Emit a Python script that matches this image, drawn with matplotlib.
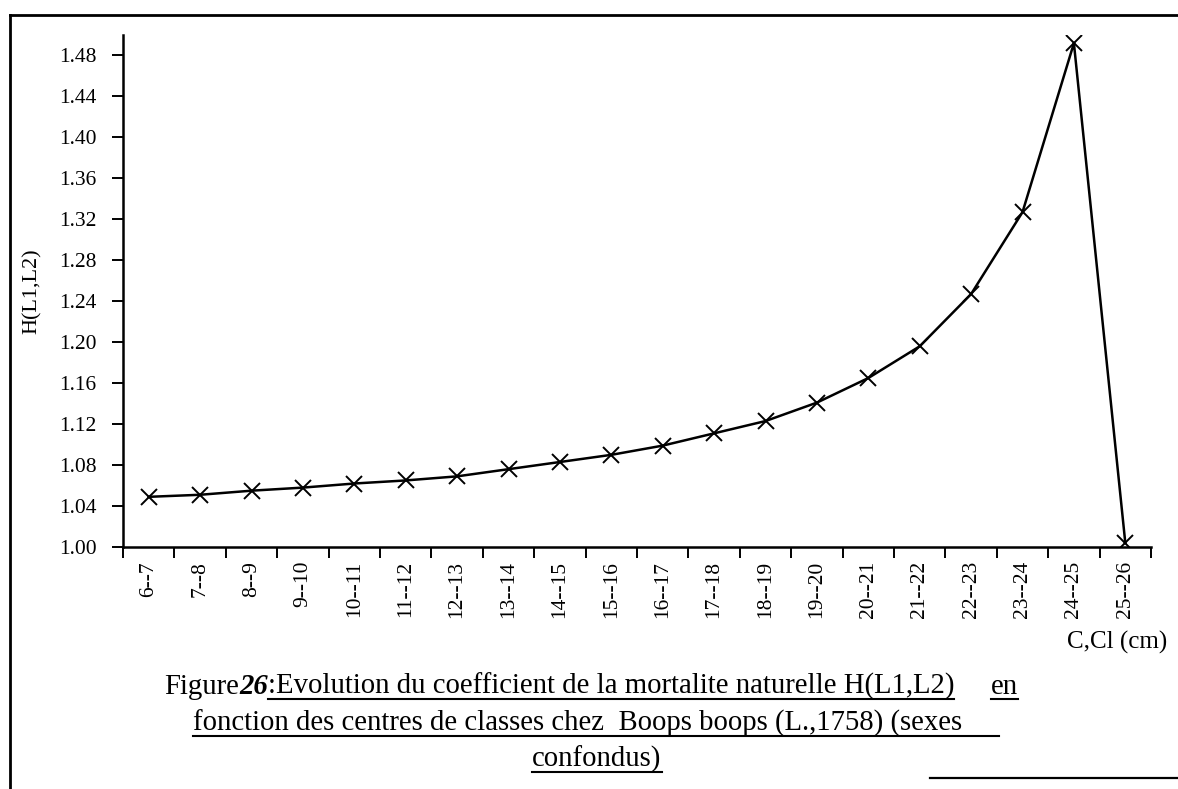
import matplotlib
matplotlib.use("Agg")
import matplotlib.pyplot as plt
from matplotlib.lines import Line2D
import numpy as np

# class intervals (cm) and H(L1,L2)
classes = ["6--7", "7--8", "8--9", "9--10", "10--11", "11--12", "12--13", "13--14",
           "14--15", "15--16", "16--17", "17--18", "18--19", "19--20", "20--21",
           "21--22", "22--23", "23--24", "24--25", "25--26"]
h_values = [1.049, 1.051, 1.055, 1.058, 1.062, 1.065, 1.069, 1.076, 1.083, 1.090,
            1.099, 1.111, 1.123, 1.141, 1.165, 1.196, 1.247, 1.327, 1.492, 1.004]
y_ticks = [1.00, 1.04, 1.08, 1.12, 1.16, 1.20, 1.24, 1.28, 1.32, 1.36, 1.40, 1.44, 1.48]

plt.rcParams['font.family'] = ['Liberation Serif', 'DejaVu Serif']

W, H = 1178, 789
fig = plt.figure(figsize=(W / 100, H / 100), dpi=100)
ax = fig.add_axes([123 / W, 1 - 547 / H, (1151 - 123) / W, (547 - 35) / H])

x = np.arange(len(classes))
ax.plot(x, h_values, color='black', lw=1.8, marker='x', ms=12, mew=1.4)

ax.set_xlim(-0.5, len(classes) - 0.5)
ax.set_ylim(1.0, 1.50)
ax.spines['top'].set_visible(False)
ax.spines['right'].set_visible(False)
ax.spines['left'].set_linewidth(1.8)
ax.spines['bottom'].set_linewidth(1.8)

# boundary ticks (no labels) and class labels at centres
ax.set_xticks(np.arange(len(classes) + 1) - 0.5)
ax.set_xticklabels([])
ax.set_xticks(x, minor=True)
ax.set_xticklabels(classes, minor=True, rotation=90, fontsize=15.5)
ax.tick_params(axis='x', which='major', direction='out', length=8, width=1.4)
ax.tick_params(axis='x', which='minor', length=0, pad=10)

ax.set_yticks(y_ticks)
ax.set_yticklabels([f"{v:.2f}" for v in y_ticks], fontsize=15.5)
ax.tick_params(axis='y', direction='out', length=8, width=1.4, pad=11)
ax.set_ylabel("H(L1,L2)", fontsize=16, labelpad=12)

fig.text(1117 / W, 1 - 642 / H, "C,Cl (cm)", fontsize=18, ha='center', va='center')

# frame of the scanned page
fig.add_artist(Line2D([10 / W, 1], [1 - 15 / H, 1 - 15 / H], color='black', lw=2))
fig.add_artist(Line2D([10 / W, 10 / W], [1 - 15 / H, 0], color='black', lw=2))
fig.add_artist(Line2D([930 / W, 1], [1 - 778 / H, 1 - 778 / H], color='black', lw=1.6))

# caption, with underlined parts
cap_size = 20.7
lines = [
    [("Figure", False, {}), ("26", False, {'style': 'italic', 'weight': 'bold'}),
     (":Evolution du coefficient de la mortalite naturelle H(L1,L2)", True, {}),
     ("     ", False, {}), ("en", True, {})],
    [("fonction des centres de classes chez  Boops boops (L.,1758) (sexes     ", True, {})],
    [("confondus)", True, {})],
]
baselines = [694, 731, 767]
centres = [591, 596, 597]

renderer = fig.canvas.get_renderer()
for pieces, base, cx in zip(lines, baselines, centres):
    widths = []
    for txt, _, kw in pieces:
        t = fig.text(0, 0, txt, fontsize=cap_size, **kw)
        widths.append(t.get_window_extent(renderer).width)
        t.remove()
    xpos = cx - sum(widths) / 2
    for (txt, under, kw), w in zip(pieces, widths):
        fig.text(xpos / W, 1 - base / H, txt, fontsize=cap_size, va='baseline', **kw)
        if under:
            yy = 1 - (base + 5) / H
            fig.add_artist(Line2D([xpos / W, (xpos + w) / W], [yy, yy], color='black', lw=1.5))
        xpos += w

fig.savefig("out.png", dpi=100)
